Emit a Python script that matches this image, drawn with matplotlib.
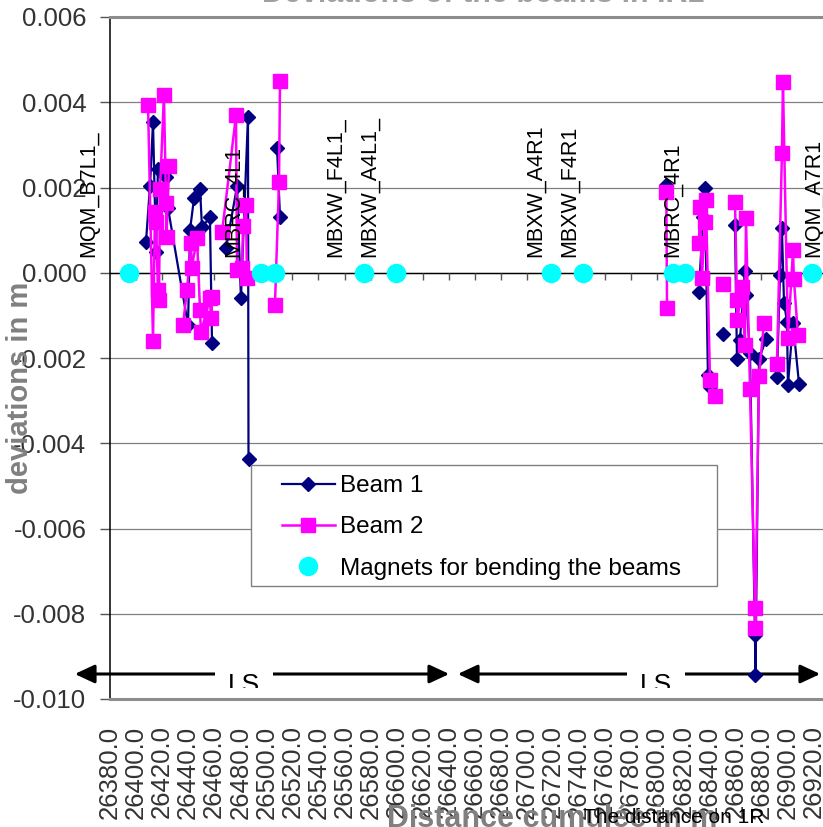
import numpy as np
import matplotlib
matplotlib.use('Agg')
import matplotlib.pyplot as plt
from matplotlib.patches import Rectangle, FancyArrowPatch
from matplotlib.transforms import Bbox, TransformedBbox

plt.rcParams['font.family'] = ['Liberation Sans', 'DejaVu Sans']

nan = np.nan

# Beam 1 (x in m, deviation in m); nan = break in the line
beam1_x = [26407.6, 26410.7, 26413.0, 26415.3, 26416.8, 26423.0, 26424.5, 26439.9, 26441.4,
           26444.5, 26449.1, 26450.6, 26456.7, 26458.3, nan,
           26469.0, 26477.5, 26480.5, 26485.9, 26486.3, nan,
           26508.2, 26510.5, nan,
           26806.7, nan,
           26832.0, 26835.1, 26836.6, 26838.9, 26840.5, nan,
           26850.5, nan,
           26859.7, 26861.2, 26863.5, 26867.3, 26868.1, 26871.2, 26875.0, 26875.4, 26878.1,
           26883.5, nan,
           26891.9, 26894.2, 26895.7, 26897.3, 26899.6, 26900.3, 26904.2, 26908.8]
beam1_y = [0.00072, 0.00203, 0.00353, 0.00048, 0.00243, 0.00224, 0.00152, -0.00123, 0.00100,
           0.00175, 0.00197, 0.00107, 0.00130, -0.00165, nan,
           0.00057, 0.00203, -0.00060, 0.00366, -0.00437, nan,
           0.00292, 0.00130, nan,
           0.00207, nan,
           -0.00046, 0.00130, 0.00198, -0.00240, -0.00268, nan,
           -0.00144, nan,
           0.00111, -0.00203, -0.00158, 0.00004, -0.00053, -0.00189, -0.00850, -0.00944, -0.00203,
           -0.00156, nan,
           -0.00245, -0.00006, 0.00104, -0.00070, -0.00115, -0.00263, -0.00118, -0.00260]

# Beam 2
beam2_x = [26409.2, 26413.0, 26414.5, 26415.3, 26416.8, 26417.6, 26418.4, 26421.4, 26423.0,
           26423.4, 26425.3, nan,
           26436.0, 26439.1, 26442.2, 26442.6, 26446.8, 26449.1, 26449.8, 26456.7, 26457.5,
           26458.3, nan,
           26466.0, 26476.7, 26477.5, 26481.3, 26482.1, 26484.4, 26485.1, nan,
           26506.6, 26509.7, 26510.5, nan,
           26807.0, 26807.5, nan,
           26832.0, 26832.8, 26834.3, 26836.6, 26837.4, 26840.5, 26844.3, nan,
           26850.5, nan,
           26859.7, 26861.2, 26861.6, 26865.0, 26867.3, 26868.1, 26871.2, 26875.0, 26875.2,
           26878.1, 26881.9, nan,
           26891.9, 26895.7, 26896.5, 26900.3, 26904.2, 26904.9, 26908.0]
beam2_y = [0.00394, -0.00160, 0.00142, 0.00118, -0.00040, -0.00064, 0.00196, 0.00418, 0.00163,
           0.00083, 0.00250, nan,
           -0.00123, -0.00040, 0.00070, 0.00010, 0.00081, -0.00088, -0.00140, -0.00060, -0.00107,
           -0.00057, nan,
           0.00095, 0.00369, 0.00006, 0.00010, 0.00109, 0.00159, -0.00013, nan,
           -0.00075, 0.00212, 0.00450, nan,
           0.00190, -0.00083, nan,
           0.00070, 0.00154, -0.00012, 0.00118, 0.00170, -0.00252, -0.00290, nan,
           -0.00026, nan,
           0.00166, -0.00064, -0.00110, -0.00033, -0.00170, 0.00128, -0.00273, -0.00787, -0.00833,
           -0.00242, -0.00118, nan,
           -0.00214, 0.00280, 0.00447, -0.00153, 0.00053, -0.00015, -0.00146]

# magnets for bending the beams
magnet_x = [26394.6, 26495.9, 26506.6, 26574.9, 26599.5, 26718.4, 26743.0, 26812.0, 26821.3, 26918.8]
magnet_y = [0, 0, 0, 0, 0, 0, 0, 0, 0, 0]

magnet_names = ['MQM_B7L1_', 'MBRC_4L1', 'MBXW_F4L1_', 'MBXW_A4L1_',
                'MBXW_A4R1', 'MBXW_F4R1', 'MBRC_4R1', 'MQM_A7R1']
name_x = [26363.9, 26474.4, 26553.4, 26578.8, 26706.2, 26732.3, 26811.3, 26920.3]

x_ticks = np.arange(26380, 26961, 20)
y_ticks = np.arange(-0.010, 0.0061, 0.002)

W, H = 823, 827
fig = plt.figure(figsize=(W / 100, H / 100), dpi=100)
# plot area runs past the right edge of the picture
ax = fig.add_axes([110 / W, 1 - 699 / H, 755.7 / W, 682 / H])
ax.set_xlim(26380, 26960)
ax.set_ylim(-0.010, 0.006)

ax.set_yticks(y_ticks)
ax.set_yticklabels(['%.3f' % v for v in y_ticks])
ax.set_xticks(x_ticks)
ax.set_xticklabels(['%.1f' % v for v in x_ticks], rotation=90)
ax.tick_params(axis='x', length=0, pad=19, labelsize=18.5, labelcolor='#333333')
ax.tick_params(axis='y', length=7, width=1, pad=10, labelsize=18.5, labelcolor='#333333',
               color='#555555')
ax.grid(axis='y', color='#808080', lw=0.9)
ax.set_axisbelow(True)
ax.axhline(0, color='black', lw=1.0, zorder=1)
ax.plot(x_ticks[1:], np.zeros(len(x_ticks) - 1), ls='none', marker=3, ms=5,
        mew=1, color='#555555', clip_on=False, zorder=1)

for s in ['top', 'bottom']:
    ax.spines[s].set_color('#8c8c8c')
    ax.spines[s].set_linewidth(2.2)
ax.spines['left'].set_color('black')
ax.spines['left'].set_linewidth(1.1)
ax.spines['right'].set_visible(False)

b1, = ax.plot(beam1_x, beam1_y, color='#000080', lw=1.6, marker='D', ms=7, zorder=3,
              label='Beam 1')
b2, = ax.plot(beam2_x, beam2_y, color='#FF00FF', lw=1.8, marker='s', ms=10.5, zorder=4,
              label='Beam 2')
mg, = ax.plot(magnet_x, magnet_y, ls='none', color='#00FFFF', marker='o', ms=13, zorder=5,
              label='Magnets for bending the beams')

for nm, xv in zip(magnet_names, name_x):
    ax.text(xv, 0.00036, nm, rotation=90, ha='center', va='bottom', fontsize=15.5,
            color='black', zorder=6)

# LS arrows, in figure pixels
def fx(px):
    return px / W

def fy(py):
    return 1 - py / H

for x0, x1, xc in [(72, 452, 244), (455, 823, 656)]:
    arr = FancyArrowPatch((fx(x0), fy(674)), (fx(x1), fy(674)), transform=fig.transFigure,
                          arrowstyle='<|-|>,head_length=0.6,head_width=0.28',
                          mutation_scale=20, color='black', lw=2.2, clip_on=False, zorder=1.5)
    ax.add_artist(arr)
    box = Rectangle((fx(xc - 29), fy(688)), 58 / W, 24 / H, transform=fig.transFigure,
                    facecolor='white', edgecolor='none', clip_on=False, zorder=1.6)
    ax.add_artist(box)
    t = fig.text(fx(xc), fy(692), 'LS', ha='center', va='baseline', fontsize=19, color='black')
    t.set_clip_box(TransformedBbox(Bbox.from_extents(fx(xc - 40), fy(688), fx(xc + 40), fy(660)),
                                   fig.transFigure))
    t.set_clip_on(True)

# legend with a hand-made frame
frame = Rectangle((fx(251), fy(586)), (717 - 251) / W, (586 - 465) / H, transform=fig.transFigure,
                  facecolor='white', edgecolor='#808080', lw=1.0, zorder=4.9)
fig.add_artist(frame)
leg = fig.legend(handles=[b1, b2, mg], loc='upper left', bbox_to_anchor=(fx(282), fy(475)),
                 frameon=False, borderpad=0, borderaxespad=0, fontsize=17.5, handlelength=2.18,
                 handletextpad=0.2, labelspacing=0.8, numpoints=1)
leg.set_zorder(5)

# titles and axis labels (partly outside the picture, as in the original)
fig.text(fx(483), fy(2), 'Deviations of the beams in IR1', ha='center', va='baseline',
         fontsize=22, fontweight='bold', color='#a0a0a0')
fig.text(fx(20), fy(388), 'deviations in m', rotation=90, ha='center', va='center',
         fontsize=21, fontweight='bold', color='#808080')
fig.text(fx(552), fy(827), 'Distance cumulée in m', ha='center', va='baseline',
         fontsize=22, fontweight='bold', color='#808080')
fig.text(fx(583), fy(823), 'The distance on 1R', ha='left', va='baseline',
         fontsize=15, color='black')

fig.savefig('out.png', dpi=100)
